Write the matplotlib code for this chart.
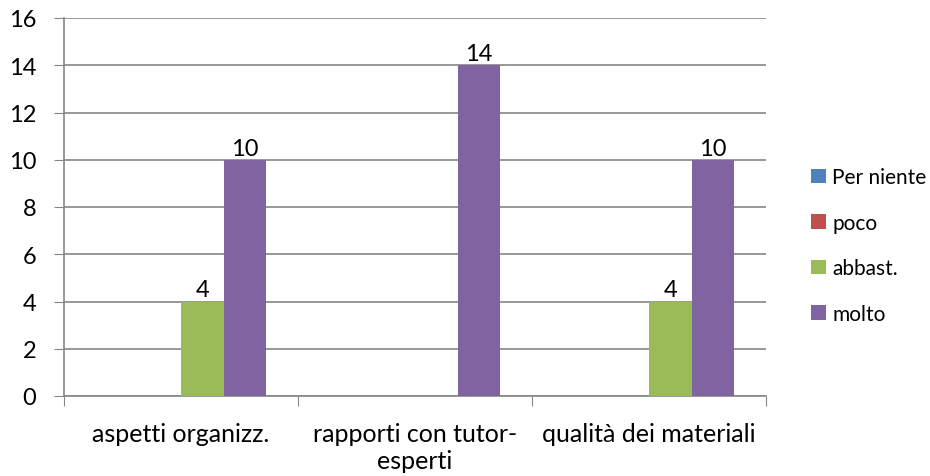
import numpy as np
import matplotlib
matplotlib.use('Agg')
import matplotlib.pyplot as plt

categories = ['aspetti organizz.', 'rapporti con tutor-\nesperti', 'qualità dei materiali']
series = ['Per niente', 'poco', 'abbast.', 'molto']
per_niente = [0, 0, 0]
poco = [0, 0, 0]
abbast = [4, 0, 4]
molto = [10, 14, 10]
yticks = [0, 2, 4, 6, 8, 10, 12, 14, 16]

colors = ['#4F81BD', '#C0504D', '#9BBB59', '#8064A2']
grid_c = '#868686'

plt.rcParams['font.family'] = ['Lato', 'DejaVu Sans']

fig = plt.figure(figsize=(9.3, 4.77), dpi=100)
ax = fig.add_axes([64 / 930, 1 - 397 / 477, 702 / 930, 378 / 477])

x = np.arange(len(categories))
w = 1 / 5.5
for i, (name, vals) in enumerate(zip(series, [per_niente, poco, abbast, molto])):
    pos = x + (i - 1.5) * w
    bars = ax.bar(pos, vals, width=w, color=colors[i], label=name, zorder=3)
    for b, v in zip(bars, vals):
        if v:
            ax.text(b.get_x() + b.get_width() / 2, v + 0.05, str(v),
                    ha='center', va='bottom', fontsize=17, color='black')

ax.set_xlim(-0.5, 2.5)
ax.set_ylim(0, 16)
ax.set_yticks(yticks)
ax.tick_params(axis='y', labelsize=17, length=7, color=grid_c, pad=13)
ax.set_xticks([-0.5, 0.5, 1.5, 2.5])
ax.set_xticklabels([])
ax.set_xticks(x, minor=True)
ax.set_xticklabels(categories, minor=True, fontsize=18, linespacing=1.2)
ax.tick_params(axis='x', which='minor', length=0, pad=19)
ax.tick_params(axis='x', which='major', length=7, color=grid_c)
ax.grid(axis='y', color=grid_c, linewidth=1.2, zorder=0)
for s in ['top', 'right']:
    ax.spines[s].set_visible(False)
for s in ['left', 'bottom']:
    ax.spines[s].set_color(grid_c)
    ax.spines[s].set_linewidth(1.2)

fig.legend(loc='upper left', bbox_to_anchor=(803 / 930, 1 - 160 / 477),
           frameon=False, fontsize=15, handlelength=0.7, handleheight=0.7,
           handletextpad=0.3, labelspacing=1.22, borderaxespad=0)

fig.savefig('out.png', dpi=100)
